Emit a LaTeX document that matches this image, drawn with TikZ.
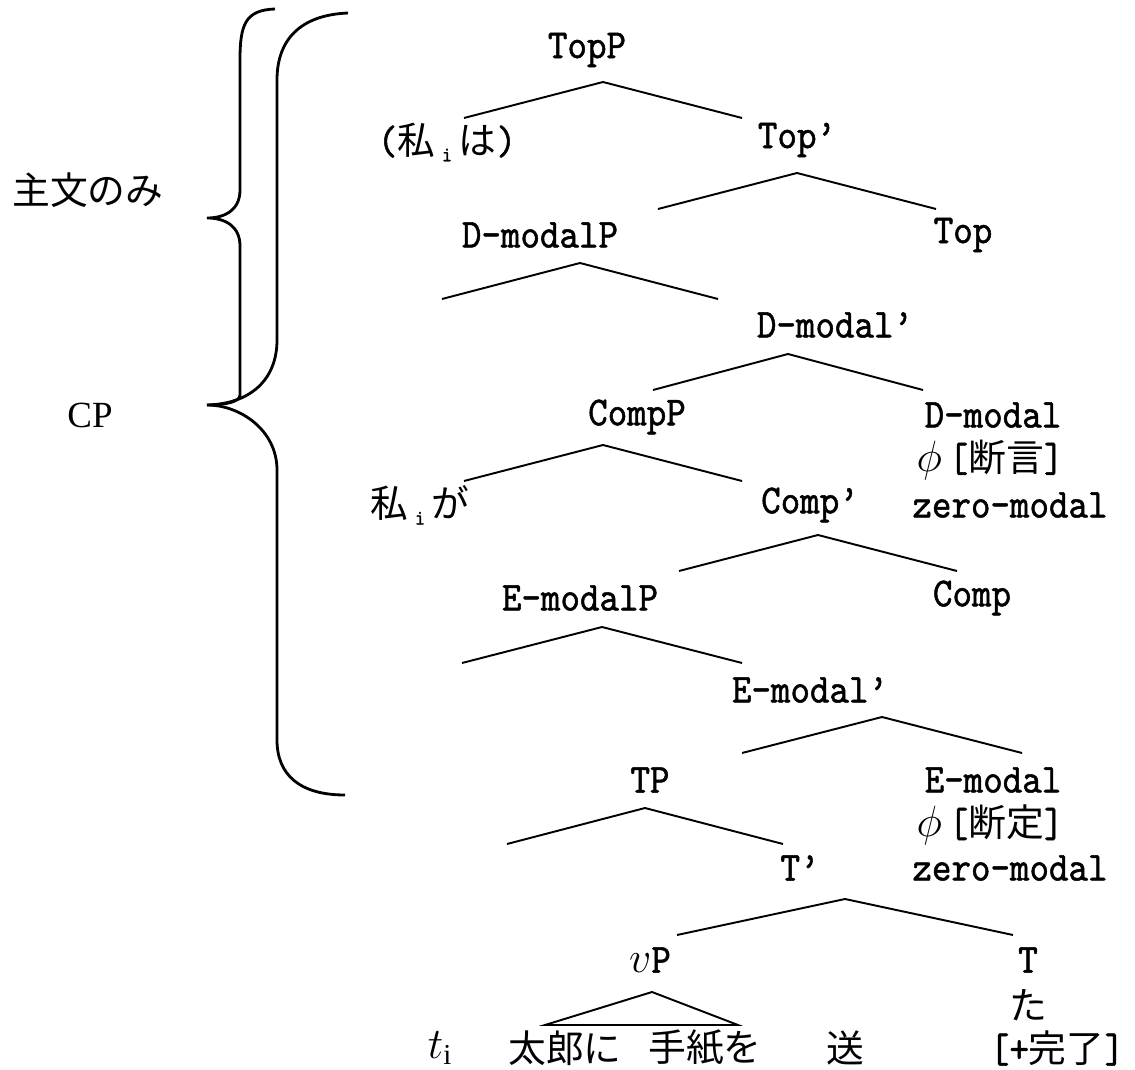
\documentclass[tikz,border=0pt]{standalone}
\usepackage{fontspec}
\setmainfont{Liberation Serif}
\newfontfamily\lat[FakeStretch=0.9, FakeBold=1.2]{lmmono10-regular.otf}
\newfontfamily\jp{Noto Sans CJK JP}
\newcommand{\ja}[1]{{\jp\fontsize{21.5}{24}\selectfont #1}}
\newcommand{\idx}{\raisebox{-0.4ex}{\fontsize{12}{12}\selectfont i}}
\newcommand{\fork}[2]{\draw[branch] (#1) -- ++(-#2,36) (#1) -- ++(#2,36);}

\tikzset{
  lbl/.style={inner sep=0pt, font=\lat\fontsize{23.5}{26}\selectfont},
  branch/.style={line width=1.1pt},
  brace/.style={line width=1.6pt},
}

\begin{document}
\begin{tikzpicture}[x=0.02cm, y=-0.02cm]
    \useasboundingbox (0,0) rectangle (1135,1070);

    \node[lbl] (topp) at (587,50) {TopP};
    \node[lbl] (topic) at (447,142) {(\ja{私}\,\idx\,\ja{は})};
    \node[lbl] (topbar) at (797,140) {Top’};
    \node[lbl] (dmodp) at (540,235) {D-modalP};
    \node[lbl] (top) at (963,235) {Top};
    \node[lbl] (dmodbar) at (835,325) {D-modal’};
    \node[lbl] (compp) at (637,417) {CompP};
    \node[lbl] (dmod) at (993,415) {D-modal};
    \node[lbl] (dmodphi) at (990,460) {$\phi$\,[\ja{断言}]};
    \node[lbl] (dmodzero) at (1010,505) {zero-modal};
    \node[lbl] (subj) at (420,505) {\ja{私}\,\idx\,\ja{が}};
    \node[lbl] (compbar) at (810,505) {Comp’};
    \node[lbl] (emodp) at (580,598) {E-modalP};
    \node[lbl] (comp) at (972,598) {Comp};
    \node[lbl] (emodbar) at (810,690) {E-modal’};
    \node[lbl] (tp) at (650,780) {TP};
    \node[lbl] (emod) at (993,780) {E-modal};
    \node[lbl] (emodphi) at (990,825) {$\phi$\,[\ja{断定}]};
    \node[lbl] (emodzero) at (1010,868) {zero-modal};
    \node[lbl] (tbar) at (800,868) {T’};
    \node[lbl] (vp) at (650,960) {$v$P};
    \node[lbl] (t) at (1028,960) {T};
    \node[lbl] (ta) at (1028,1005) {\ja{た}};
    \node[lbl] (perf) at (1057,1048) {[+\ja{完了}]};
    \node[lbl] (trace) at (440,1048) {$t_{\mathrm{i}}$};
    \node[lbl] (taro) at (565,1048) {\ja{太郎に}};
    \node[lbl] (letter) at (705,1048) {\ja{手紙を}};
    \node[lbl] (send) at (845,1048) {\ja{送}};

    \node[font=\jp\fontsize{21.5}{24}\selectfont] (mainonly) at (88,190) {主文のみ};
    \node[font=\fontsize{21}{24}\selectfont] (cp) at (90,415) {CP};

    \coordinate (topp-a) at (603,82);
    \coordinate (topbar-a) at (797,173);
    \coordinate (dmodp-a) at (580,263);
    \coordinate (dmodbar-a) at (788,354);
    \coordinate (compp-a) at (603,445);
    \coordinate (compbar-a) at (818,535);
    \coordinate (emodp-a) at (602,627);
    \coordinate (emodbar-a) at (882,717);
    \coordinate (tp-a) at (645,808);
    \coordinate (tbar-a) at (845,899);
    \coordinate (vp-a) at (652,992);

    \fork{topp-a}{139}
    \fork{topbar-a}{139}
    \fork{dmodp-a}{138}
    \fork{dmodbar-a}{135}
    \fork{compp-a}{139}
    \fork{compbar-a}{139}
    \fork{emodp-a}{140}
    \fork{emodbar-a}{140}
    \fork{tp-a}{138}
    \fork{tbar-a}{168}
    \draw[branch] (vp-a) -- ++(-107,33) -- ++(193,0) -- cycle;

    \coordinate (tip) at (207,405);
    \draw[brace] (275,9) .. controls (245,10) and (240,25) .. (240,60) -- (240,190)
        .. controls (240,210) and (225,218) .. (207,218)
        .. controls (225,218) and (240,226) .. (240,246) -- (240,395)
        .. controls (240,402) and (225,405) .. (tip);
    \draw[brace] (348,13) .. controls (300,15) and (277,40) .. (277,80) -- (277,340)
        .. controls (277,380) and (250,404) .. (tip)
        .. controls (240,405) and (277,430) .. (277,470) -- (277,740)
        .. controls (277,775) and (300,795) .. (345,795);
\end{tikzpicture}
\end{document}
